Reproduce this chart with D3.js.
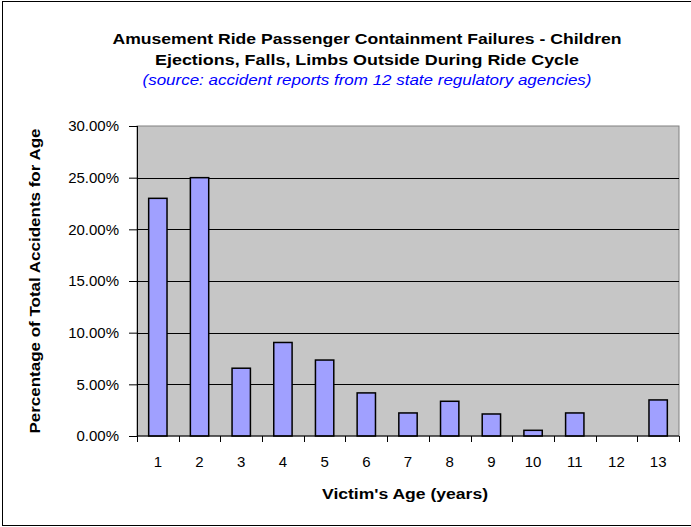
<!DOCTYPE html>
<meta charset="utf-8">
<script src="https://d3js.org/d3.v7.min.js"></script>
<style>
body { margin: 0; background: #fff; }
text { font-family: "Liberation Sans", Arial, sans-serif; }
.axis path { display: none; }
.axis line { stroke: #000; }
.axis text { font-size: 15px; fill: #000; }
</style>
<body></body>
<script>

// ages (x categories) and share of accidents for each age
var ages = ["1","2","3","4","5","6","7","8","9","10","11","12","13"];
var percents = [0.23, 0.25, 0.0656, 0.0905, 0.0735, 0.0417, 0.0223, 0.0336, 0.0213, 0.0055, 0.0223, 0, 0.0349];
var yTicks = [0, 0.05, 0.10, 0.15, 0.20, 0.25, 0.30];

var titleLines = ["Amusement Ride Passenger Containment Failures - Children",
                  "Ejections, Falls, Limbs Outside During Ride Cycle"];
var titleWidths = [509, 424];
var subtitle = "(source:  accident reports from 12 state regulatory agencies)";

var W = 691, H = 527;
var margin = {top: 126, right: 12, bottom: 91, left: 137};
var width = W - margin.left - margin.right,
    height = H - margin.top - margin.bottom;

var svg = d3.select("body").append("svg")
    .attr("width", W)
    .attr("height", H);

// outer frame
svg.append("rect")
    .attr("x", 2.5).attr("y", 1.5)
    .attr("width", W).attr("height", 524)
    .attr("fill", "#fff").attr("stroke", "#000");

// titles
svg.selectAll(".title")
  .data(titleLines).enter().append("text")
    .attr("class", "title")
    .attr("x", 367)
    .attr("y", function(d, i) { return 44 + i * 21; })
    .attr("text-anchor", "middle")
    .attr("textLength", function(d, i) { return titleWidths[i]; })
    .attr("lengthAdjust", "spacingAndGlyphs")
    .style("font-size", "15px")
    .style("font-weight", "bold")
    .text(function(d) { return d; });

svg.append("text")
    .attr("x", 367).attr("y", 85)
    .attr("text-anchor", "middle")
    .attr("textLength", 449)
    .attr("lengthAdjust", "spacingAndGlyphs")
    .style("font-size", "14px")
    .style("font-style", "italic")
    .style("fill", "#0000ff")
    .text(subtitle);

var g = svg.append("g")
    .attr("transform", "translate(" + margin.left + "," + margin.top + ")");

var x = d3.scaleBand()
    .domain(ages)
    .range([0, width])
    .paddingInner(0.56)
    .paddingOuter(0.28);

var xTick = d3.scaleBand().domain(ages).range([0, width]);

var y = d3.scaleLinear()
    .domain([0, 0.30])
    .range([height, 0]);

// plot background
g.append("rect")
    .attr("width", width).attr("height", height)
    .attr("fill", "#c6c6c6")
    .attr("stroke", "#808080");

// gridlines
g.selectAll(".grid")
  .data(yTicks.slice(1, -1)).enter().append("line")
    .attr("class", "grid")
    .attr("x1", 0).attr("x2", width)
    .attr("y1", function(d) { return Math.round(y(d)) + 0.5; })
    .attr("y2", function(d) { return Math.round(y(d)) + 0.5; })
    .attr("stroke", "#000");

// bars
g.selectAll(".bar")
  .data(percents).enter().append("rect")
    .attr("class", "bar")
    .attr("x", function(d, i) { return x(ages[i]); })
    .attr("y", function(d) { return y(d); })
    .attr("width", x.bandwidth())
    .attr("height", function(d) { return height - y(d); })
    .attr("fill", "#a0a0ff")
    .attr("stroke", "#000")
    .attr("stroke-width", 1.5)
    .style("display", function(d) { return d > 0 ? null : "none"; });

// y axis
var yAxis = d3.axisLeft(y)
    .tickValues(yTicks)
    .tickSize(8)
    .tickPadding(10)
    .tickFormat(d3.format(".2%"));

g.append("g").attr("class", "y axis").call(yAxis);
g.append("line")
    .attr("x1", 0.5).attr("x2", 0.5)
    .attr("y1", 0).attr("y2", height)
    .attr("stroke", "#000");

// x axis: tick marks on category boundaries, labels in centres
var xg = g.append("g").attr("class", "x axis")
    .attr("transform", "translate(0," + height + ")");
xg.append("line")
    .attr("x1", 0).attr("x2", width)
    .attr("stroke", "#000");
xg.selectAll(".xt")
  .data(ages.concat(["end"])).enter().append("line")
    .attr("x1", function(d, i) { return Math.round(i * xTick.bandwidth()) + 0.5; })
    .attr("x2", function(d, i) { return Math.round(i * xTick.bandwidth()) + 0.5; })
    .attr("y1", 0).attr("y2", 6);
xg.selectAll(".xl")
  .data(ages).enter().append("text")
    .attr("x", function(d) { return xTick(d) + xTick.bandwidth() / 2; })
    .attr("y", 31)
    .attr("text-anchor", "middle")
    .text(function(d) { return d; });

// axis titles
svg.append("text")
    .attr("x", 405).attr("y", 499)
    .attr("text-anchor", "middle")
    .attr("textLength", 166)
    .attr("lengthAdjust", "spacingAndGlyphs")
    .style("font-size", "14px")
    .style("font-weight", "bold")
    .text("Victim's Age (years)");

svg.append("text")
    .attr("transform", "translate(40," + (margin.top + height / 2) + ") rotate(-90)")
    .attr("text-anchor", "middle")
    .attr("textLength", 305)
    .attr("lengthAdjust", "spacingAndGlyphs")
    .style("font-size", "14px")
    .style("font-weight", "bold")
    .text("Percentage of Total Accidents for Age");

</script>
